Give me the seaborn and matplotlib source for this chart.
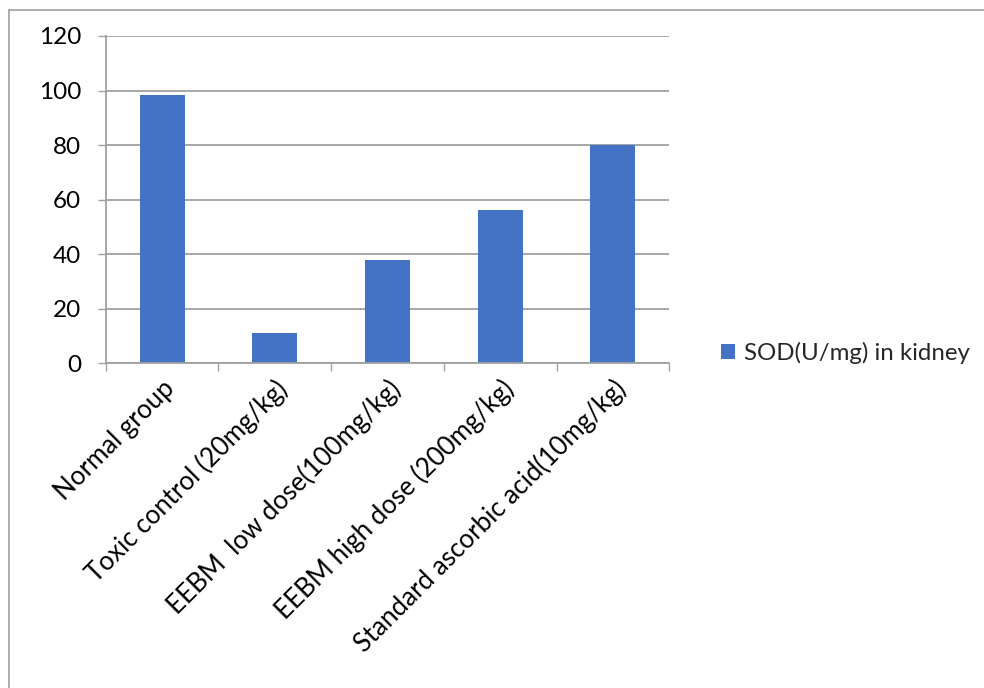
import matplotlib
matplotlib.use("Agg")
import matplotlib.pyplot as plt
from matplotlib.lines import Line2D
import seaborn as sns
import pandas as pd

groups = [
    "Normal group",
    "Toxic control (20mg/kg)",
    "EEBM  low dose(100mg/kg)",
    "EEBM high dose (200mg/kg)",
    "Standard ascorbic acid(10mg/kg)",
]
sod_values = [98.4, 11.0, 37.9, 56.3, 80.0]
series_name = "SOD(U/mg) in kidney"
y_ticks = [0, 20, 40, 60, 80, 100, 120]

df = pd.DataFrame({"group": groups, "sod": sod_values})

sns.set_theme(style="white")
plt.rcParams["font.family"] = ["Lato", "DejaVu Sans"]

W, H = 984, 688
fig = plt.figure(figsize=(W / 100, H / 100), dpi=100)
ax = fig.add_axes([105.7 / W, 1 - 363.3 / H, (669.3 - 105.7) / W, (363.3 - 36) / H])

bar_color = "#4472C4"
grid_color = "#a0a0a0"

sns.barplot(data=df, x="group", y="sod", color=bar_color, width=0.4,
            saturation=1, ax=ax, label=series_name, edgecolor="none")

ax.set_xlim(-0.5, len(groups) - 0.5)
ax.set_ylim(0, 120)
ax.set_yticks(y_ticks)
ax.set_xlabel("")
ax.set_ylabel("")

ax.grid(axis="y", color=grid_color, linewidth=1.3)
ax.set_axisbelow(True)
for side in ["top", "right"]:
    ax.spines[side].set_visible(False)
for side in ["left", "bottom"]:
    ax.spines[side].set_color(grid_color)
    ax.spines[side].set_linewidth(1.3)

ax.tick_params(axis="y", which="major", length=5.8, width=1.0, color=grid_color,
               direction="out", pad=12, labelsize=17.5, labelcolor="black", left=True)
ax.tick_params(axis="x", which="major", length=0, pad=9, labelsize=18.6,
               labelcolor="black")
ax.set_xticks([i + 0.5 for i in range(-1, len(groups))], minor=True)
ax.tick_params(axis="x", which="minor", length=5.8, width=1.0, color=grid_color,
               direction="out", bottom=True)

for lbl in ax.get_xticklabels():
    lbl.set_rotation(45)
    lbl.set_ha("right")
    lbl.set_va("top")
    lbl.set_rotation_mode("anchor")

leg = ax.legend(loc="center left", bbox_to_anchor=(721 / W, 1 - 353 / H),
                bbox_transform=fig.transFigure, frameon=False, fontsize=17.3,
                handlelength=0.6, handleheight=0.6, handletextpad=0.35,
                borderpad=0, borderaxespad=0)

# outer chart border (left and top edges)
fig.add_artist(Line2D([8.5 / W, 8.5 / W], [0, 1 - 10 / H], transform=fig.transFigure,
                      color="#a0a0a0", linewidth=1.2))
fig.add_artist(Line2D([8.5 / W, 1], [1 - 10 / H, 1 - 10 / H], transform=fig.transFigure,
                      color="#a0a0a0", linewidth=1.2))

fig.savefig("out.png", dpi=100)
